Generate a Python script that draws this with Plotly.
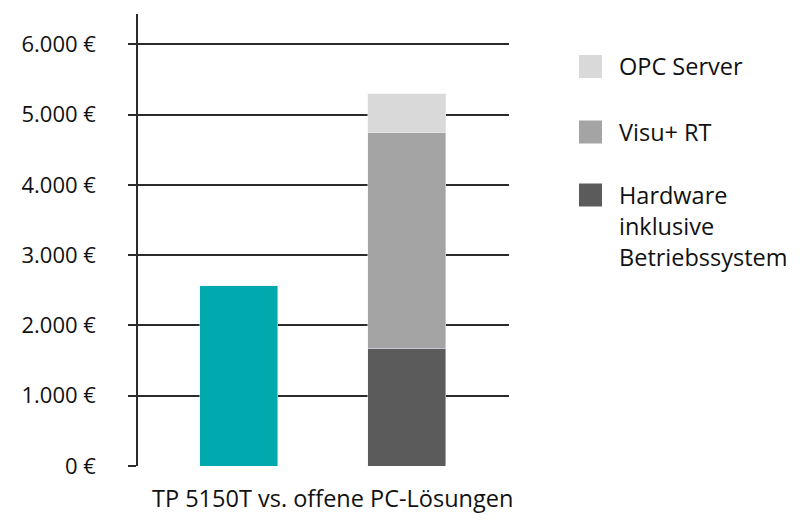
import plotly.graph_objects as go

categories = ["TP 5150T", "offene PC-Lösungen"]
tp_value = [2565, None]
hardware = [None, 1675]
visu_rt = [None, 3065]
opc_server = [None, 555]

tick_vals = [0, 1000, 2000, 3000, 4000, 5000, 6000]
tick_text = ["0 €", "1.000 €", "2.000 €", "3.000 €", "4.000 €", "5.000 €", "6.000 €"]
x_title = "TP 5150T vs. offene PC-Lösungen"

TEAL = "#00A9AE"
DARK = "#5B5B5B"
MID = "#A4A4A4"
LIGHT = "#D9D9D9"
TEXT = "#111111"
FONT = "Open Sans"
FS = 22
FS_TEXT = 23.5

fig = go.Figure()
fig.add_trace(go.Bar(x=categories, y=tp_value, marker_color=TEAL, name="TP 5150T", showlegend=False))
fig.add_trace(go.Bar(x=categories, y=hardware, marker_color=DARK, name="Hardware inklusive Betriebssystem", showlegend=False))
fig.add_trace(go.Bar(x=categories, y=visu_rt, marker_color=MID, name="Visu+ RT", showlegend=False))
fig.add_trace(go.Bar(x=categories, y=opc_server, marker_color=LIGHT, name="OPC Server", showlegend=False))

# page body has an 8px margin; positions below are in screen pixels
OFF = 8
W, H = 800, 531
L, T = 138 - OFF, 14 - OFF
R = W - (509 - OFF)
B = H - (466 - OFF)
pw, ph = W - L - R, H - T - B

def px(x):
    return (x - OFF - L) / pw

def py(y):
    return (H - B - (y - OFF)) / ph

legend_items = [
    (66.5, LIGHT, ["OPC Server"]),
    (132.0, MID, ["Visu+ RT"]),
    (195.0, DARK, ["Hardware", "inklusive", "Betriebssystem"]),
]
shapes = []
annotations = []
for cy, col, lines in legend_items:
    shapes.append(dict(type="rect", xref="paper", yref="paper",
                       x0=px(579), x1=px(602), y0=py(cy + 11.5), y1=py(cy - 11.5),
                       fillcolor=col, line=dict(width=0)))
    for i, line in enumerate(lines):
        annotations.append(dict(xref="paper", yref="paper", x=px(617), y=py(cy + 31 * i),
                                xanchor="left", yanchor="middle", text=line, showarrow=False,
                                font=dict(family=FONT, size=FS_TEXT, color=TEXT)))

annotations.append(dict(xref="paper", yref="paper", x=px(332), y=py(498),
                        xanchor="center", yanchor="middle", text=x_title, showarrow=False,
                        font=dict(family=FONT, size=FS_TEXT, color=TEXT)))

fig.update_layout(
    width=W, height=H,
    margin=dict(l=L, r=R, t=T, b=B, pad=0),
    paper_bgcolor="white", plot_bgcolor="white",
    barmode="stack", bargap=0.536,
    font=dict(family=FONT, size=FS, color=TEXT),
    shapes=shapes, annotations=annotations,
    xaxis=dict(type="category", range=[-0.6, 1.61], showticklabels=False,
               showgrid=False, zeroline=False, showline=False, ticks=""),
    yaxis=dict(range=[0, 6430], tickvals=tick_vals, ticktext=tick_text,
               showgrid=True, gridcolor="#2b2b2b", gridwidth=1.5,
               zeroline=False, showline=True, linecolor="#2b2b2b", linewidth=1.5,
               ticks="outside", ticklen=8, tickcolor="#2b2b2b", tickwidth=1.5,
               ticklabelstandoff=28,
               tickfont=dict(family=FONT, size=FS, color=TEXT)),
)

fig.write_html("out.html")
